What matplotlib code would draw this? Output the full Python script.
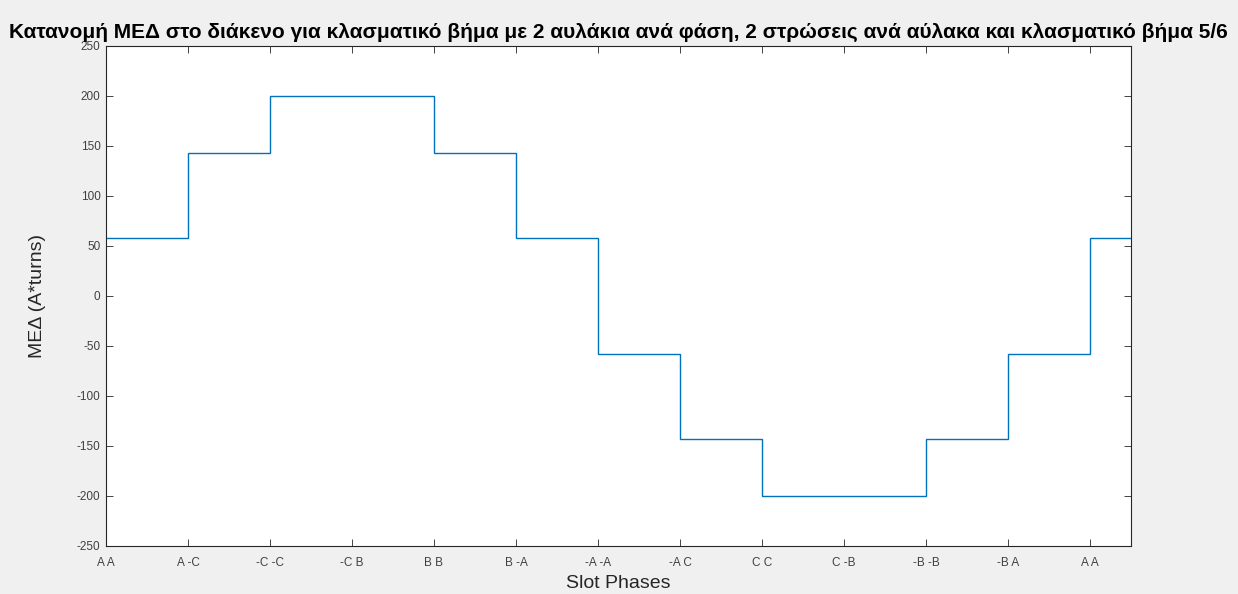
import numpy as np
import matplotlib.pyplot as plt

# slot phase labels and MMF values per slot step
slot_labels = ['A A', 'A -C', '-C -C', '-C B', 'B B', 'B -A', '-A -A',
               '-A C', 'C C', 'C -B', '-B -B', '-B A', 'A A']
mmf = [57.7, 143.3, 200.0, 200.0, 143.3, 57.7, -57.7,
       -143.3, -200.0, -200.0, -143.3, -57.7, 57.7]
edges = [0, 1, 2, 3, 4, 5, 6, 7, 8, 9, 10, 11, 12, 12.5]

plt.rcParams['font.family'] = ['Liberation Sans', 'DejaVu Sans']
plt.rcParams['axes.unicode_minus'] = False

fig = plt.figure(figsize=(12.38, 5.94), dpi=100, facecolor='#f0f0f0')
ax = fig.add_axes([106/1238, 1 - 546/594, (1131-106)/1238, 500/594])

ax.stairs(mmf, edges, color='#0072BD', linewidth=1.0, baseline=None)

ax.set_xlim(0, 12.5)
ax.set_ylim(-250, 250)
ax.set_xticks(range(len(slot_labels)))
ax.set_xticklabels(slot_labels)
ax.set_yticks(np.arange(-250, 251, 50))

for s in ax.spines.values():
    s.set_color('#262626')
    s.set_linewidth(0.8)
ax.tick_params(direction='in', top=True, right=True, length=5,
               colors='#262626', labelsize=8.5, width=0.6)
ax.tick_params(axis='x', pad=8)
ax.tick_params(axis='y', pad=4)
for lbl in ax.get_xticklabels() + ax.get_yticklabels():
    lbl.set_color('#404040')

ax.set_title('Κατανομή ΜΕΔ στο διάκενο για κλασματικό βήμα με 2 αυλάκια ανά φάση, '
             '2 στρώσεις ανά αύλακα και κλασματικό βήμα 5/6',
             fontsize=15, fontweight='bold', pad=6)
ax.set_xlabel('Slot Phases', fontsize=14, color='#262626', labelpad=4)
ax.set_ylabel('ΜΕΔ (A*turns)', fontsize=14, color='#262626', labelpad=22)

fig.savefig('out.png', dpi=100, facecolor=fig.get_facecolor())
